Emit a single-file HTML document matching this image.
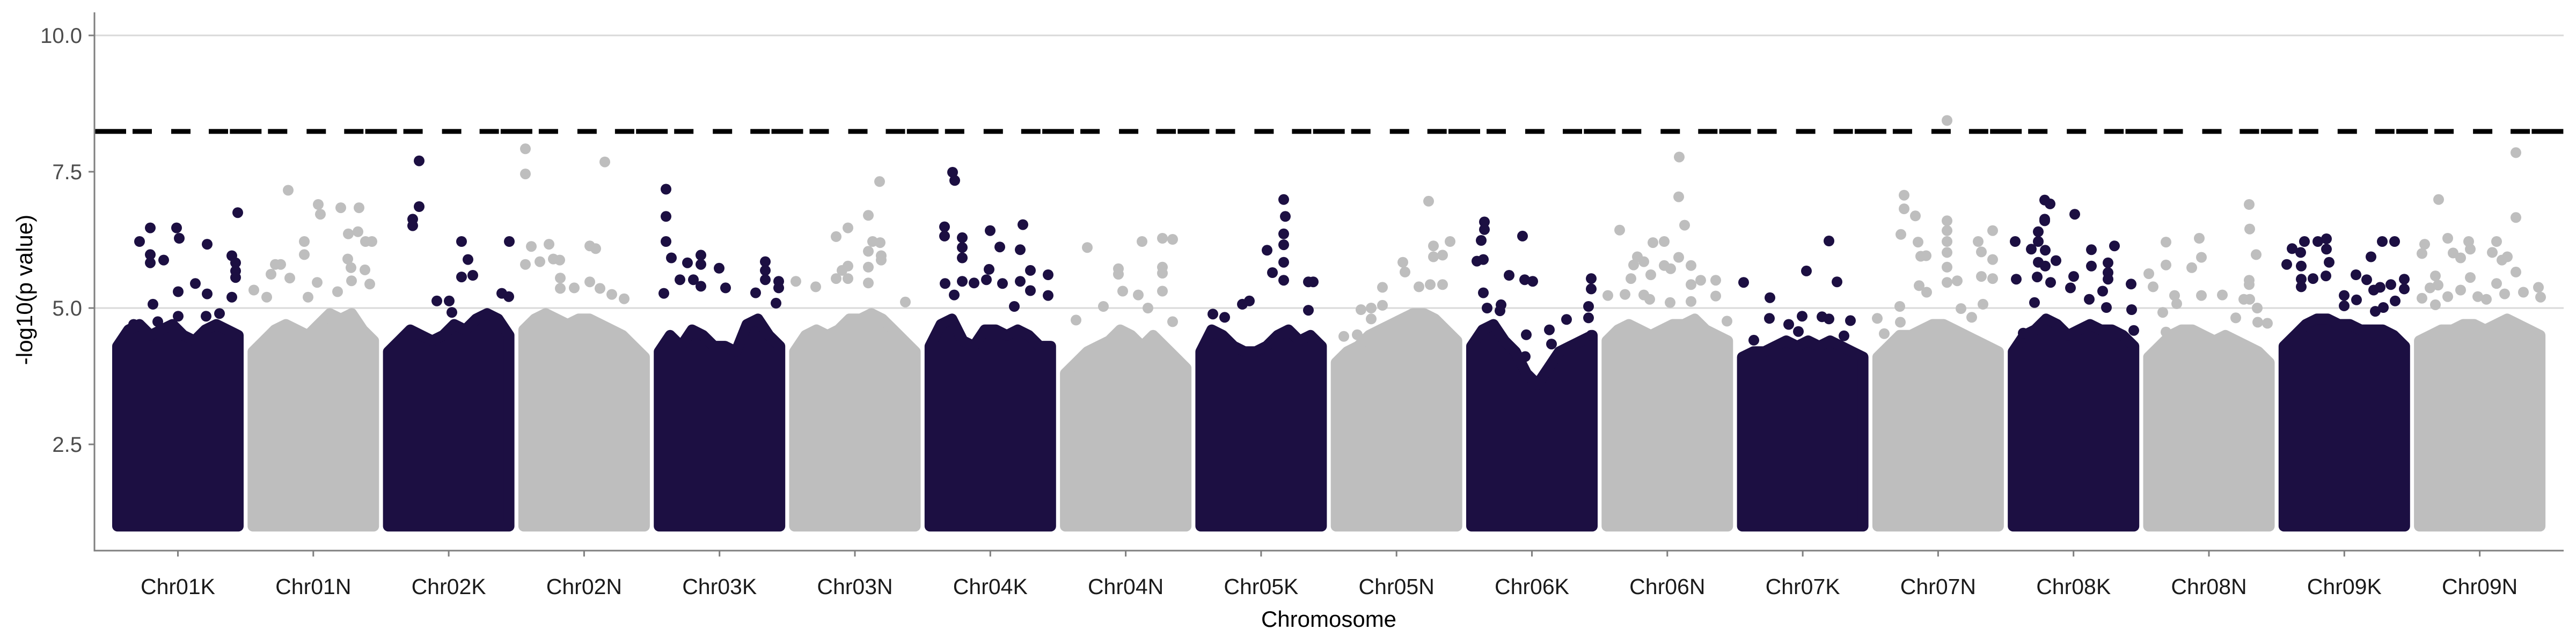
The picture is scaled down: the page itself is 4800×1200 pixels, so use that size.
<!DOCTYPE html>
<html><head><meta charset="utf-8"><style>
html,body{margin:0;padding:0;background:#fff;}
svg{display:block;font-family:"Liberation Sans",sans-serif;}
</style></head><body>
<svg id="chart" width="4800" height="1200" viewBox="0 0 4800 1200" xmlns="http://www.w3.org/2000/svg">
<g id="grid"></g>
<g id="bodies"></g>
<g id="points"></g>
<g id="thresh"></g>
<g id="axes"></g>
<text x="0" y="0" transform="translate(60,540) rotate(-90)" text-anchor="middle" font-size="42" fill="#000">-log10(p value)</text>
<text x="2476" y="1168" text-anchor="middle" font-size="42" fill="#000">Chromosome</text>
</svg>
<script>
const chromosomes = ["Chr01K","Chr01N","Chr02K","Chr02N","Chr03K","Chr03N","Chr04K","Chr04N","Chr05K","Chr05N","Chr06K","Chr06N","Chr07K","Chr07N","Chr08K","Chr08N","Chr09K","Chr09N"];
const chromLength = 90;
const chromSpacing = 100.92;
const yTicks = [2.5, 5.0, 7.5, 10.0];
const yTickLabels = ["2.5","5.0","7.5","10.0"];
const gridValues = [5.0, 10.0];
const threshold = 8.24;
const minValue = 1.0;
const ceilings = [
[4.3,4.6,4.7,4.5,4.6,4.7,4.5,4.4,4.6,4.7,4.6,4.5],
[4.2,4.4,4.6,4.7,4.6,4.5,4.7,4.9,4.8,4.9,4.6,4.4],
[4.2,4.4,4.6,4.5,4.4,4.5,4.7,4.6,4.8,4.9,4.8,4.5],
[4.6,4.8,4.9,4.8,4.7,4.8,4.8,4.7,4.6,4.5,4.3,4.1],
[4.2,4.5,4.3,4.6,4.5,4.3,4.3,4.2,4.7,4.8,4.5,4.3],
[4.2,4.5,4.6,4.5,4.6,4.8,4.8,4.9,4.8,4.6,4.4,4.2],
[4.3,4.7,4.8,4.4,4.3,4.6,4.6,4.5,4.6,4.5,4.3,4.3],
[3.8,4.0,4.2,4.3,4.4,4.6,4.5,4.3,4.5,4.3,4.1,3.9],
[4.2,4.6,4.5,4.3,4.2,4.2,4.3,4.5,4.6,4.4,4.5,4.3],
[4.0,4.2,4.3,4.5,4.6,4.7,4.8,4.9,4.9,4.8,4.6,4.4],
[4.3,4.6,4.7,4.4,4.2,3.8,3.6,3.9,4.2,4.3,4.4,4.5],
[4.4,4.6,4.7,4.6,4.5,4.6,4.7,4.7,4.8,4.6,4.5,4.4],
[4.1,4.2,4.2,4.3,4.4,4.3,4.4,4.3,4.4,4.3,4.2,4.1],
[4.1,4.3,4.5,4.5,4.6,4.7,4.7,4.6,4.5,4.4,4.3,4.2],
[4.2,4.5,4.6,4.8,4.7,4.5,4.6,4.7,4.6,4.6,4.5,4.3],
[4.1,4.3,4.5,4.6,4.6,4.5,4.4,4.5,4.4,4.3,4.2,4.0],
[4.3,4.5,4.7,4.8,4.8,4.7,4.7,4.6,4.6,4.6,4.5,4.3],
[4.4,4.5,4.6,4.6,4.7,4.7,4.6,4.7,4.8,4.7,4.6,4.5]
];
// outlier SNPs: [chromosome index, cumulative genome position, -log10 p]
const outliers = [
[0,16.4,6.22],[0,24.4,6.47],[0,24.4,5.98],[0,24.4,5.83],[0,34.4,5.88],[0,26.4,5.07],[0,44,6.47],[0,46,6.28],[0,45.2,5.30],[0,58,5.45],[0,66.8,6.17],[0,66.8,5.26],[0,85.2,5.96],[0,88,5.83],[0,88,5.68],[0,88,5.56],[0,89.6,6.75],[0,85.2,5.2],[0,45.2,4.85],[0,66,4.85],[0,12,4.7],[0,30,4.75],[0,76,4.9],
[1,127.2,7.16],[1,139.2,6.22],[1,139.2,5.98],[1,149.6,6.9],[1,151.2,6.72],[1,114.4,5.62],[1,117.6,5.8],[1,121.6,5.8],[1,128.4,5.55],[1,101.6,5.33],[1,111.2,5.2],[1,148.8,5.47],[1,142,5.2],[1,180,6.84],[1,166.4,6.84],[1,172,6.36],[1,179.2,6.4],[1,184.8,6.22],[1,189.6,6.22],[1,184.4,5.7],[1,188,5.44],[1,174.4,5.5],[1,164,5.3],[1,171.6,5.9],[1,174,5.74],
[2,224.8,7.7],[2,224.8,6.86],[2,220,6.63],[2,220,6.51],[2,256.4,6.22],[2,292,6.22],[2,261.2,5.89],[2,264.8,5.6],[2,256.4,5.57],[2,238,5.13],[2,247.2,5.13],[2,286.4,5.27],[2,291.6,5.21],[2,249.2,4.92],
[3,304,7.92],[3,304,7.46],[3,363.2,7.68],[3,308.4,6.13],[3,321.6,6.17],[3,304,5.8],[3,314.8,5.85],[3,324.8,5.9],[3,329.6,5.88],[3,352,6.14],[3,356.4,6.09],[3,330,5.55],[3,330,5.36],[3,340.4,5.37],[3,352,5.48],[3,359.6,5.36],[3,368.4,5.25],[3,377.6,5.17],
[4,408.8,7.18],[4,408.8,6.68],[4,408.8,6.22],[4,412.8,5.92],[4,424.8,5.83],[4,434.8,5.97],[4,434.8,5.8],[4,434.8,5.4],[4,419.2,5.52],[4,429.2,5.52],[4,448.4,5.73],[4,453.2,5.37],[4,482.8,5.85],[4,482.8,5.69],[4,482.8,5.52],[4,492.8,5.49],[4,492.8,5.37],[4,475.6,5.28],[4,490.8,5.09],[4,407.2,5.27],
[5,568,7.32],[5,559.6,6.7],[5,559.6,6.04],[5,559.6,5.75],[5,559.6,5.46],[5,544.4,6.47],[5,544.4,5.77],[5,544.4,5.54],[5,535.6,6.31],[5,535.6,5.54],[5,562.8,6.22],[5,568.4,6.2],[5,569.2,5.96],[5,569.2,5.88],[5,540,5.69],[5,505.6,5.49],[5,520.4,5.39],[5,587.2,5.11],
[6,622.4,7.49],[6,624,7.34],[6,616.4,6.49],[6,616.4,6.32],[6,629.6,6.29],[6,629.6,6.11],[6,629.6,5.92],[6,629.6,5.49],[6,650.4,6.42],[6,657.6,6.12],[6,674.8,6.53],[6,672.8,6.07],[6,672.8,5.49],[6,680.4,5.69],[6,680.4,5.32],[6,693.6,5.61],[6,693.6,5.23],[6,616.8,5.45],[6,638.4,5.46],[6,647.6,5.52],[6,649.6,5.71],[6,659.6,5.45],[6,623.6,5.24],[6,668.4,5.03],
[7,722.8,6.11],[7,763.6,6.22],[7,778.8,6.28],[7,778.8,5.75],[7,778.8,5.64],[7,778.8,5.31],[7,786.4,6.26],[7,786.4,4.75],[7,746,5.72],[7,746,5.62],[7,749.2,5.31],[7,760.8,5.24],[7,734.8,5.03],[7,768,5.0],[7,714.4,4.78],
[8,869.2,6.99],[8,869.2,6.36],[8,869.2,6.16],[8,869.2,5.84],[8,869.2,5.51],[8,870.4,6.68],[8,856.8,6.06],[8,860.8,5.65],[8,887.6,5.48],[8,887.6,4.96],[8,891.2,5.48],[8,838.4,5.07],[8,843.6,5.13],[8,816.4,4.89],[8,825.2,4.83],
[9,977.2,6.96],[9,980.8,6.14],[9,980.8,5.94],[9,993.2,6.22],[9,987.6,5.97],[9,987.6,5.43],[9,958,5.84],[9,959.6,5.66],[9,942.8,5.38],[9,942.8,5.05],[9,926.8,4.97],[9,934.4,5.0],[9,934.4,4.8],[9,970,5.39],[9,978.4,5.43],[9,914,4.48],[9,924,4.51],
[10,1018.8,6.58],[10,1018.8,6.44],[10,1016.4,6.24],[10,1013.2,5.86],[10,1018,5.89],[10,1018,5.28],[10,1047.2,6.32],[10,1037.2,5.6],[10,1048.8,5.52],[10,1054.8,5.49],[10,1020.8,5.0],[10,1031.2,5.06],[10,1030.4,4.95],[10,1098.4,5.54],[10,1098.4,5.35],[10,1098.4,4.5],[10,1096.4,5.03],[10,1096.4,4.82],[10,1080,4.79],[10,1050,4.51],[10,1049.2,4.11],[10,1068.8,4.34],[10,1067.2,4.6],
[11,1164,7.77],[11,1163.6,7.04],[11,1163.6,5.93],[11,1168,6.52],[11,1119.6,6.43],[11,1144.4,6.2],[11,1152.8,6.22],[11,1152.8,5.78],[11,1132.8,5.94],[11,1137.6,5.85],[11,1137.6,5.24],[11,1130,5.79],[11,1157.6,5.72],[11,1172.8,5.78],[11,1172.8,5.43],[11,1172.8,5.12],[11,1142.8,5.61],[11,1128,5.54],[11,1180,5.51],[11,1191.2,5.51],[11,1191.2,5.22],[11,1110.8,5.23],[11,1123.6,5.25],[11,1142,5.16],[11,1157.2,5.1],[11,1199.6,4.76],
[12,1212,5.47],[12,1275.6,6.23],[12,1275.6,4.8],[12,1258.8,5.68],[12,1281.6,5.48],[12,1231.6,5.19],[12,1231.2,4.81],[12,1255.6,4.85],[12,1270.4,4.84],[12,1291.6,4.77],[12,1245.6,4.7],[12,1252.8,4.57],[12,1219.6,4.41],[12,1286.8,4.49],
[13,1363.6,8.44],[13,1363.6,6.6],[13,1363.6,6.42],[13,1363.6,6.22],[13,1363.6,6.02],[13,1363.6,5.75],[13,1363.6,5.47],[13,1331.6,7.07],[13,1331.6,6.82],[13,1340,6.69],[13,1329.2,6.35],[13,1342,6.21],[13,1344,5.95],[13,1348,5.96],[13,1397.6,6.42],[13,1397.6,5.89],[13,1397.6,5.54],[13,1386.8,6.22],[13,1389.2,6.03],[13,1389.2,5.58],[13,1371.2,5.5],[13,1342.8,5.41],[13,1348.4,5.29],[13,1328.4,5.03],[13,1328.8,4.74],[13,1390.4,5.07],[13,1374,4.99],[13,1311.6,4.81],[13,1316.8,4.53],[13,1382,4.83],
[14,1436.4,6.98],[14,1436.4,6.63],[14,1436.4,6.6],[14,1440.4,6.91],[14,1458.8,6.72],[14,1414.4,6.22],[14,1431.6,6.4],[14,1431.6,6.22],[14,1431.6,5.84],[14,1426.4,6.08],[14,1436.8,6.06],[14,1436.8,5.77],[14,1444.8,5.87],[14,1415.2,5.53],[14,1430.8,5.57],[14,1440.8,5.47],[14,1471.2,6.07],[14,1471.2,5.77],[14,1488.4,6.14],[14,1483.6,5.83],[14,1483.6,5.65],[14,1483.6,5.53],[14,1458,5.58],[14,1455.6,5.37],[14,1479.6,5.31],[14,1500.8,5.44],[14,1428.8,5.1],[14,1469.6,5.16],[14,1482.4,5.01],[14,1501.2,4.97],[14,1420.4,4.54],[14,1502.8,4.59],
[15,1588.8,6.9],[15,1588.8,5.51],[15,1588.8,5.43],[15,1589.2,6.45],[15,1594,5.98],[15,1526.8,6.21],[15,1526.8,5.79],[15,1526.8,4.56],[15,1551.6,6.28],[15,1553.2,5.93],[15,1553.2,5.23],[15,1546,5.74],[15,1514,5.63],[15,1517.2,5.39],[15,1533.2,5.23],[15,1534.8,5.08],[15,1568.8,5.24],[15,1584.8,5.16],[15,1589.2,5.16],[15,1594.8,5.0],[15,1524.4,4.92],[15,1578.8,4.82],[15,1595.2,4.74],[15,1602.4,4.72],
[16,1630,6.22],[16,1620.8,6.09],[16,1640,6.22],[16,1646.4,6.27],[16,1646.4,6.08],[16,1627.2,6.02],[16,1616.8,5.8],[16,1627.6,5.77],[16,1648.4,5.84],[16,1688,6.22],[16,1697.2,6.22],[16,1679.6,5.94],[16,1636.4,5.54],[16,1627.6,5.53],[16,1627.6,5.39],[16,1646,5.59],[16,1668.4,5.61],[16,1676.4,5.52],[16,1704.4,5.53],[16,1704.4,5.35],[16,1694.4,5.43],[16,1681.6,5.33],[16,1686.4,5.38],[16,1697.6,5.13],[16,1659.6,5.23],[16,1659.6,5.04],[16,1668.8,5.15],[16,1688.8,5.01],[16,1682.8,4.94],
[17,1787.6,7.85],[17,1787.6,6.66],[17,1787.6,5.66],[17,1730,6.99],[17,1736.8,6.28],[17,1736.8,5.21],[17,1719.6,6.17],[17,1717.6,6.0],[17,1717.6,5.18],[17,1752.4,6.22],[17,1753.6,6.08],[17,1753.6,5.56],[17,1740.8,6.01],[17,1746.4,5.92],[17,1746.4,5.33],[17,1773.2,6.22],[17,1773.2,5.45],[17,1770,6.02],[17,1781.2,5.94],[17,1777.2,5.88],[17,1727.6,5.59],[17,1727.6,5.06],[17,1723.6,5.37],[17,1729.6,5.42],[17,1759.2,5.21],[17,1765.6,5.16],[17,1779.2,5.26],[17,1793.2,5.29],[17,1804.4,5.38],[17,1806,5.2]
];

const NS = "http://www.w3.org/2000/svg";
const colors = ["#1c0f42", "#bebebe"];
const plotLeft = 176, plotRight = 4777, axisBottom = 1026, axisTop = 23;
function xScale(g){ return 219 + g * 2.5; }
function yScale(v){ return 574 - (v - 5) * 101.6; }
function mk(tag, attrs, parent){
  const el = document.createElementNS(NS, tag);
  for (const k in attrs) el.setAttribute(k, attrs[k]);
  parent.appendChild(el);
  return el;
}
const grid = document.getElementById("grid");
gridValues.forEach(v => {
  const l = mk("line", {x1: plotLeft, x2: plotRight, y1: yScale(v), y2: yScale(v), stroke: "#d9d9d9", "stroke-width": 3}, grid);
  
  
});

const bodies = document.getElementById("bodies");
chromosomes.forEach((c, i) => {
  const start = i * chromSpacing;
  const ceil = ceilings[i];
  const n = ceil.length;
  let d = "M" + xScale(start) + "," + yScale(minValue);
  ceil.forEach((v, j) => {
    d += " L" + xScale(start + j * chromLength / (n - 1)).toFixed(1) + "," + yScale(v).toFixed(1);
  });
  d += " L" + xScale(start + chromLength) + "," + yScale(minValue) + " Z";
  const p = mk("path", {d: d, fill: colors[i % 2], stroke: colors[i % 2], "stroke-width": 20, "stroke-linejoin": "round"}, bodies);
  
  
});

const pts = document.getElementById("points");
outliers.forEach(o => {
  const ci = mk("circle", {cx: xScale(o[1]).toFixed(1), cy: yScale(o[2]).toFixed(1), r: 10, fill: colors[o[0] % 2]}, pts);
  
  
});

const th = document.getElementById("thresh");
for (let k = 0; k < chromosomes.length + 1; k++) {
  const s = plotLeft + k * chromSpacing * 2.5;
  const e = Math.min(s + chromSpacing * 2.5, plotRight);
  if (s >= plotRight) break;
  const l = mk("line", {x1: s, x2: e, y1: yScale(threshold), y2: yScale(threshold), stroke: "#000", "stroke-width": 9, "stroke-dasharray": "59 12 36 36 36 34 36 1000"}, th);
  
  
}

const axes = document.getElementById("axes");
const ya = mk("line", {x1: plotLeft, x2: plotLeft, y1: axisTop, y2: axisBottom + 1.5, stroke: "#7f7f7f", "stroke-width": 3}, axes);


const xa = mk("line", {x1: plotLeft - 1.5, x2: plotRight, y1: axisBottom, y2: axisBottom, stroke: "#7f7f7f", "stroke-width": 3}, axes);


yTicks.forEach((v, i) => {
  const t = mk("line", {x1: plotLeft - 11, x2: plotLeft, y1: yScale(v), y2: yScale(v), stroke: "#7f7f7f", "stroke-width": 3}, axes);
  
  
  const tx = mk("text", {x: 153, y: yScale(v) + 14, "text-anchor": "end", "font-size": 40, fill: "#4d4d4d"}, axes);
  tx.textContent = yTickLabels[i];
  
  
});
chromosomes.forEach((c, i) => {
  const cx = xScale(i * chromSpacing + chromLength / 2);
  const t = mk("line", {x1: cx, x2: cx, y1: axisBottom, y2: axisBottom + 11, stroke: "#7f7f7f", "stroke-width": 3}, axes);
  
  
  const tx = mk("text", {x: cx, y: 1107, "text-anchor": "middle", "font-size": 41, fill: "#1a1a1a"}, axes);
  tx.textContent = c;
  
  
});
</script>
</body></html>
